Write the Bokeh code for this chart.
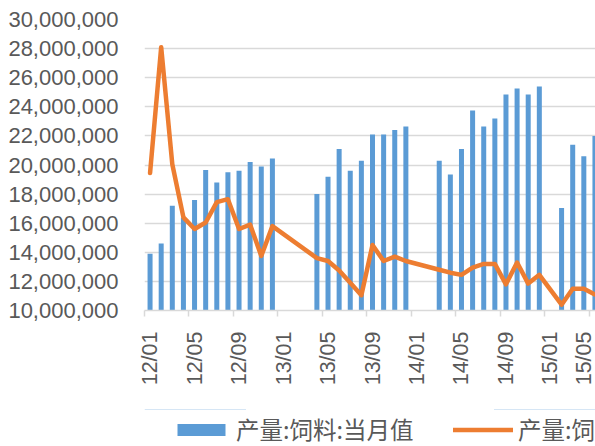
import math
from bokeh.plotting import figure
from bokeh.layouts import column
from bokeh.models import (ColumnDataSource, FixedTicker, NumeralTickFormatter,
                          Range1d, Legend, LegendItem)
from bokeh.embed import file_html
from bokeh.resources import INLINE

NaN = float("nan")

months = [
    "12/01", "12/02", "12/03", "12/04", "12/05", "12/06", "12/07", "12/08", "12/09", "12/10", "12/11", "12/12",
    "13/01", "13/02", "13/03", "13/04", "13/05", "13/06", "13/07", "13/08", "13/09", "13/10", "13/11", "13/12",
    "14/01", "14/02", "14/03", "14/04", "14/05", "14/06", "14/07", "14/08", "14/09", "14/10", "14/11", "14/12",
    "15/01", "15/02", "15/03", "15/04", "15/05",
]

# 产量:饲料:当月值 (bars)
feed_monthly = [
    13_900_000, 14_600_000, 17_200_000, 16_400_000, 17_600_000, 19_650_000,
    18_800_000, 19_500_000, 19_600_000, 20_200_000, 19_900_000, 20_450_000,
    NaN, NaN, NaN, 18_000_000, 19_200_000, 21_100_000,
    19_600_000, 20_300_000, 22_100_000, 22_100_000, 22_400_000, 22_650_000,
    NaN, NaN, 20_300_000, 19_350_000, 21_100_000, 23_750_000,
    22_650_000, 23_200_000, 24_850_000, 25_250_000, 24_850_000, 25_400_000,
    NaN, 17_050_000, 21_400_000, 20_600_000, 22_000_000,
]

# second series (line)
feed_line = [
    19_450_000, 28_100_000, 20_050_000, 16_400_000, 15_600_000, 16_050_000,
    17_450_000, 17_650_000, 15_600_000, 15_900_000, 13_750_000, 15_800_000,
    NaN, NaN, NaN, 13_600_000, 13_400_000, 12_750_000,
    11_900_000, 11_050_000, 14_500_000, 13_400_000, 13_700_000, 13_400_000,
    NaN, NaN, 12_800_000, 12_600_000, 12_450_000, 12_950_000,
    13_200_000, 13_200_000, 11_800_000, 13_300_000, 11_850_000, 12_450_000,
    NaN, 10_400_000, 11_500_000, 11_500_000, 11_100_000,
]

series_names = ["产量:饲料:当月值", "产量:饲料:累计值"]

y_ticks = [10_000_000, 12_000_000, 14_000_000, 16_000_000, 18_000_000, 20_000_000,
           22_000_000, 24_000_000, 26_000_000, 28_000_000, 30_000_000]
label_every = 4

BLUE = "#5B9BD5"
ORANGE = "#ED7D31"
GRID = "#D9D9D9"
TEXT = "#595959"

idx = list(range(len(months)))
bar_src = ColumnDataSource(dict(
    x=[i for i, v in zip(idx, feed_monthly) if not math.isnan(v)],
    top=[v for v in feed_monthly if not math.isnan(v)],
))
line_src = ColumnDataSource(dict(
    x=[i for i, v in zip(idx, feed_line) if not math.isnan(v)],
    y=[v for v in feed_line if not math.isnan(v)],
))

bar_style = dict(fill_color=BLUE, line_color=None)
line_style = dict(line_color=ORANGE, line_width=4.5, line_join="round", line_cap="round")

# ---------------- main chart ----------------
p = figure(width=595, height=409, output_backend="svg", toolbar_location=None, tools="",
           x_range=Range1d(-0.5, 40.05), y_range=Range1d(y_ticks[0], y_ticks[-1]),
           min_border_left=144, min_border_right=0, min_border_top=19, min_border_bottom=99)
p.outline_line_color = None
p.background_fill_color = "white"

p.vbar(x="x", top="top", bottom=y_ticks[0], width=0.45, source=bar_src, **bar_style)
p.line(x="x", y="y", source=line_src, **line_style)

# grid
p.xgrid.grid_line_color = None
p.ygrid.grid_line_color = GRID
p.ygrid.grid_line_width = 1.5

# y axis
p.yaxis.ticker = FixedTicker(ticks=y_ticks)
p.yaxis.formatter = NumeralTickFormatter(format="0,0")
p.yaxis.axis_line_color = None
p.yaxis.major_tick_line_color = None
p.yaxis.minor_tick_line_color = None
p.yaxis.major_tick_out = 0
p.yaxis.major_tick_in = 0
p.yaxis.major_label_standoff = 26
p.yaxis.major_label_text_font = "Liberation Sans"
p.yaxis.major_label_text_font_size = "22px"
p.yaxis.major_label_text_color = TEXT

# x axis: labels every 4 months, tick marks on category boundaries
major = [i for i in idx if i % label_every == 0]
p.xaxis.ticker = FixedTicker(ticks=major, minor_ticks=[i - 0.5 for i in major])
p.xaxis.major_label_overrides = {i: months[i] for i in major}
p.xaxis.major_label_orientation = math.pi / 2
p.xaxis.axis_line_color = GRID
p.xaxis.axis_line_width = 1.5
p.xaxis.major_tick_line_color = None
p.xaxis.major_tick_out = 6
p.xaxis.major_tick_in = 0
p.xaxis.minor_tick_line_color = GRID
p.xaxis.minor_tick_line_width = 1.5
p.xaxis.minor_tick_in = 0
p.xaxis.minor_tick_out = 6
p.xaxis.major_label_standoff = 15
p.xaxis.major_label_text_font = "Liberation Sans"
p.xaxis.major_label_text_font_size = "21.5px"
p.xaxis.major_label_text_color = TEXT

# ---------------- legend strip (frame aligned with the chart frame) ----------------
pl = figure(width=595, height=37, output_backend="svg", toolbar_location=None, tools="",
            x_range=Range1d(0, 1), y_range=Range1d(0, 1_000_000),
            x_axis_location=None, y_axis_location=None,
            min_border_left=0, min_border_right=0, min_border_top=0, min_border_bottom=0)
pl.outline_line_color = None
pl.xgrid.grid_line_color = None
pl.ygrid.grid_line_color = None
# same series, same styles; their values lie above this strip's range, so only
# their legend swatches are seen
lg_bar = pl.vbar(x="x", top="top", bottom=y_ticks[0], width=0.45, source=bar_src, **bar_style)
lg_line = pl.line(x="x", y="y", source=line_src, **line_style)

legend = Legend(
    items=[LegendItem(label=series_names[0], renderers=[lg_bar]),
           LegendItem(label=series_names[1], renderers=[lg_line])],
    orientation="horizontal", location=(27, 0), padding=0, spacing=0, margin=0,
    border_line_color=None, background_fill_alpha=0,
    glyph_width=60, glyph_height=15, label_standoff=5, label_width=217, label_height=32,
    label_text_font="Noto Sans CJK SC", label_text_font_size="23.5px",
    label_text_color=TEXT,
)
pl.add_layout(legend, "center")

layout = column(p, pl, spacing=0)
open("out.html", "w").write(file_html(layout, INLINE))
